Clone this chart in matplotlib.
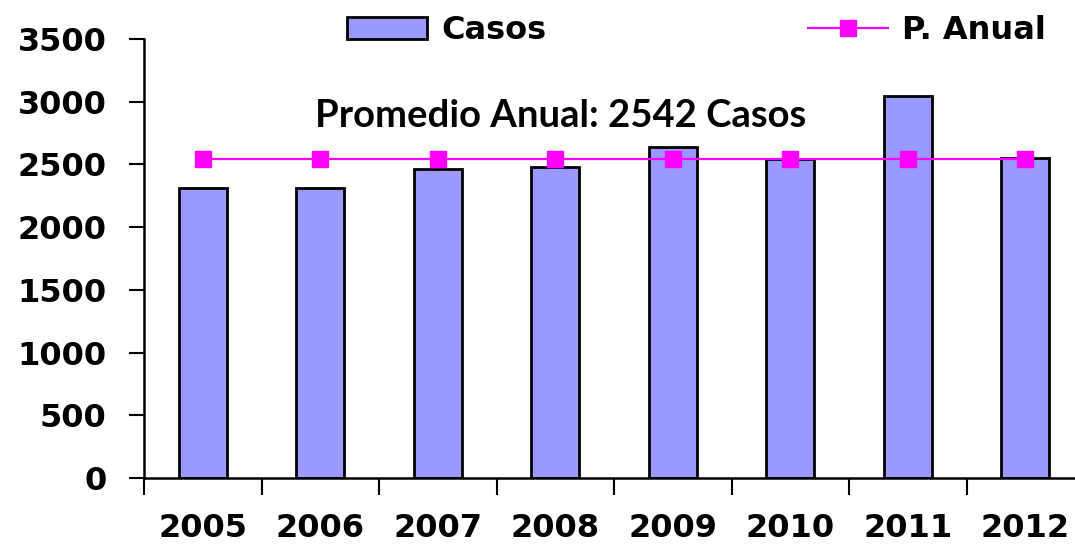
import numpy as np
import matplotlib.pyplot as plt
from matplotlib.patches import Patch
from matplotlib.lines import Line2D

# --- data ---
years = ['2005', '2006', '2007', '2008', '2009', '2010', '2011', '2012']
casos = [2315, 2315, 2460, 2480, 2640, 2540, 3045, 2550]
promedio = 2542

BAR_COLOR = '#9999FF'
LINE_COLOR = '#FF00FF'

W, H = 1075, 547
fig = plt.figure(figsize=(W / 100, H / 100), dpi=100)
left, right, top, bottom = 144, 1084, 39, 478
ax = fig.add_axes([left / W, (H - bottom) / H, (right - left) / W, (bottom - top) / H])

x = np.arange(len(years))
ax.bar(x, casos, width=0.41, color=BAR_COLOR, edgecolor='black', linewidth=2, zorder=2)
ax.plot(x, [promedio] * len(years), color=LINE_COLOR, linewidth=1.6,
        marker='s', markersize=11, markeredgecolor=LINE_COLOR, zorder=3)

ax.set_xlim(-0.5, len(years) - 0.5)
ax.set_ylim(0, 3500)
ax.set_yticks(np.arange(0, 3501, 500))

# ticks at category boundaries, labels at centres
ax.set_xticks(np.arange(-0.5, len(years) - 0.5, 1.0))
ax.set_xticklabels([])
ax.set_xticks(x, minor=True)
ax.set_xticklabels(years, minor=True, fontsize=23, fontweight='bold', family='DejaVu Sans')
ax.tick_params(axis='x', which='major', direction='out', length=12, width=1.5)
ax.tick_params(axis='x', which='minor', length=0, pad=25)
ax.tick_params(axis='y', direction='out', length=11, width=1.5, pad=16)
for lab in ax.get_yticklabels():
    lab.set_fontsize(23)
    lab.set_fontweight('bold')

for s in ['top', 'right']:
    ax.spines[s].set_visible(False)
ax.spines['left'].set_linewidth(1.8)
ax.spines['bottom'].set_linewidth(1.8)

ax.text(0.443, 0.825, 'Promedio Anual: 2542 Casos', transform=ax.transAxes,
        ha='center', va='center', fontsize=27.5, fontweight='bold', family='Lato')

handles = [
    Patch(facecolor=BAR_COLOR, edgecolor='black', linewidth=2, label='Casos'),
    Line2D([0], [0], color=LINE_COLOR, linewidth=1.6, marker='s', markersize=11,
           markeredgecolor=LINE_COLOR, label='P. Anual'),
]
fig.legend(handles=handles, loc='center', bbox_to_anchor=(0.648, 0.944), ncol=2,
           frameon=False, prop={'size': 23, 'weight': 'bold'},
           handlelength=2.5, handleheight=0.7, handletextpad=0.45, columnspacing=8.2)

fig.savefig('out.png', dpi=100)
